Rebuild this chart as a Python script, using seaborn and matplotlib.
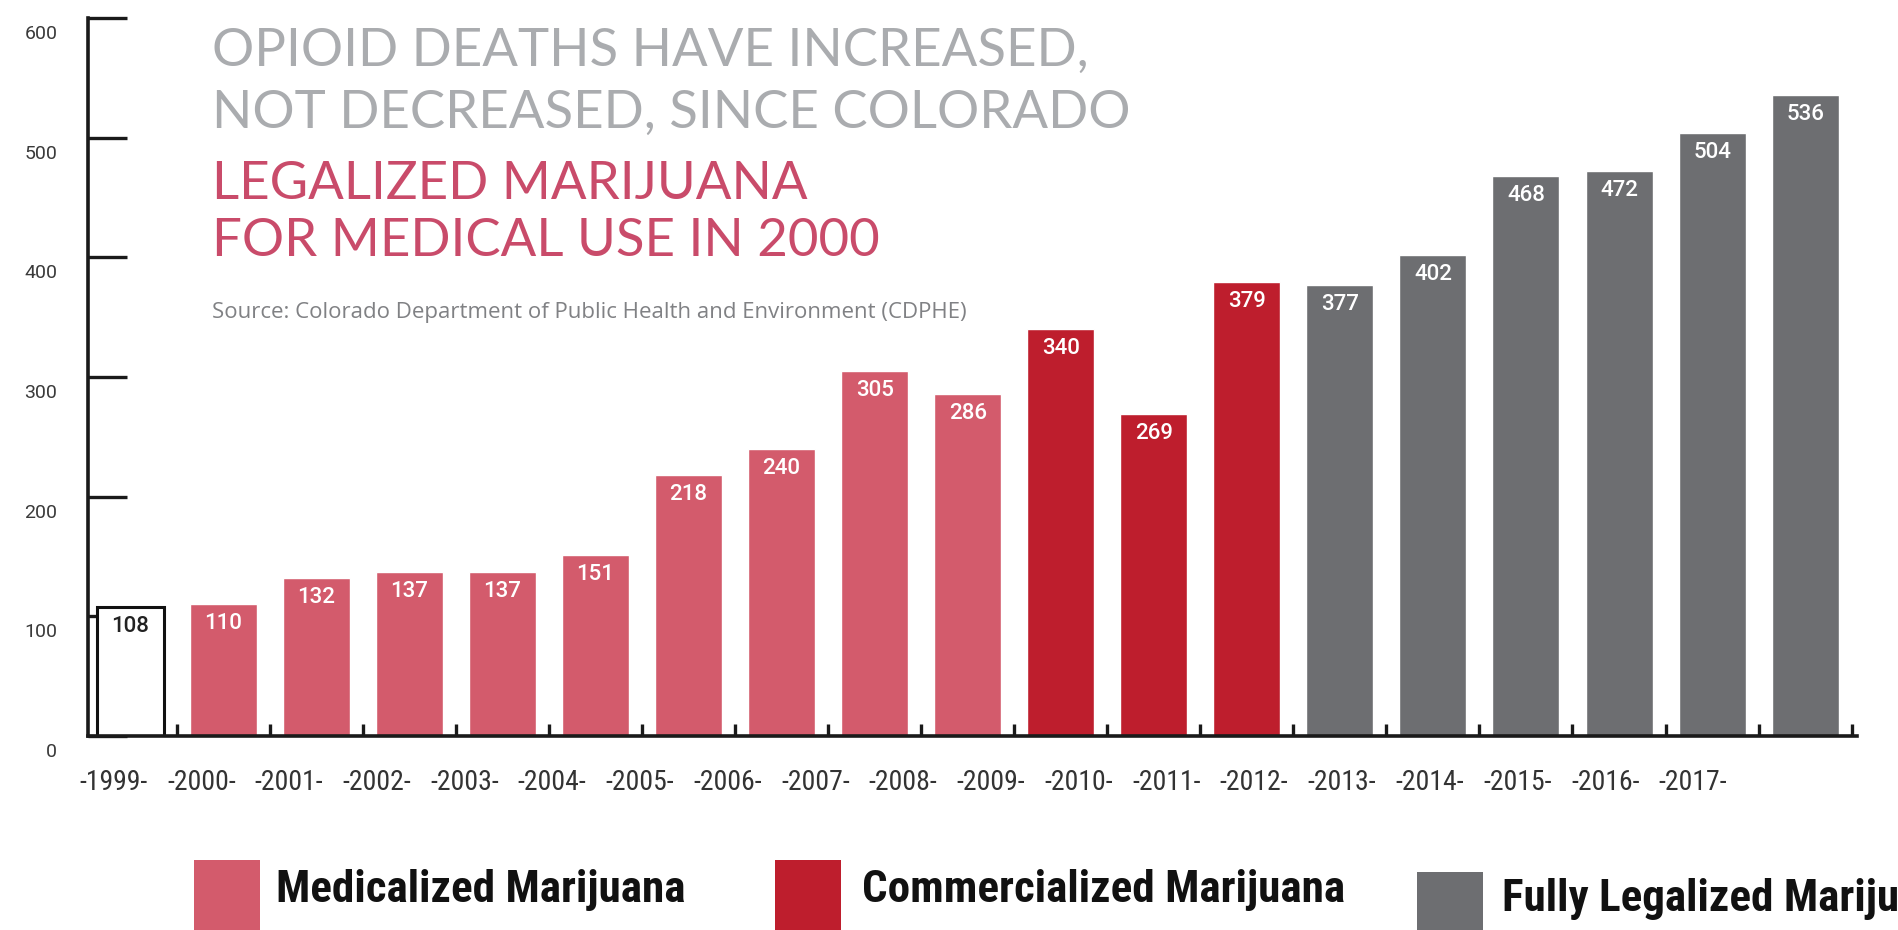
import matplotlib
matplotlib.use("Agg")
import matplotlib.pyplot as plt
from matplotlib.patches import Rectangle
from matplotlib.transforms import ScaledTranslation
import seaborn as sns
import pandas as pd

# Data
years = ["1999", "2000", "2001", "2002", "2003", "2004", "2005", "2006", "2007",
         "2008", "2009", "2010", "2011", "2012", "2013", "2014", "2015", "2016", "2017"]
deaths = [108, 110, 132, 137, 137, 151, 218, 240, 305, 286, 340, 269, 379,
          377, 402, 468, 472, 504, 536]
phase = (["Before"] + ["Medicalized"] * 9 + ["Commercialized"] * 3
         + ["Fully Legalized"] * 6)
tick_labels = ["-%s-" % y for y in years]
y_ticks = [0, 100, 200, 300, 400, 500, 600]

colors = {
    "Before": "#ffffff",
    "Medicalized": "#d35b6c",
    "Commercialized": "#be1e2d",
    "Fully Legalized": "#6d6e71",
}
legend_items = [
    ("Medicalized Marijuana", "Medicalized"),
    ("Commercialized Marijuana", "Commercialized"),
    ("Fully Legalized Marijuana", "Fully Legalized"),
]

narrow = ["Roboto Condensed", "DejaVu Sans"]
plain = ["Roboto", "DejaVu Sans"]

df = pd.DataFrame({"year": years, "deaths": deaths, "phase": phase})

sns.set_style("white")
fig = plt.figure(figsize=(18.99, 9.30), dpi=100)
ax = fig.add_axes([0.0463, 0.2086, 0.9317, 0.772])

sns.barplot(data=df, x="year", y="deaths", hue="phase", palette=colors,
            dodge=False, width=0.72, legend=False, ax=ax, saturation=1)

for p in ax.patches:
    fc = p.get_facecolor()
    if fc[0] > 0.99 and fc[1] > 0.99 and fc[2] > 0.99:
        p.set_edgecolor("#111111")
        p.set_linewidth(2.2)

# value labels inside the top of each bar
for i, v in enumerate(deaths):
    c = "#222222" if phase[i] == "Before" else "white"
    ax.annotate(str(v), (i, v), xytext=(0, -14), textcoords="offset points",
                ha="center", va="center", color=c, fontsize=16,
                fontweight="medium", family=plain)

ax.set_xlim(-0.455, 18.56)
ax.set_ylim(0, 600)

for s in ["top", "right"]:
    ax.spines[s].set_visible(False)
for s in ["left", "bottom"]:
    ax.spines[s].set_linewidth(2.6)
    ax.spines[s].set_color("#1a1a1a")

ax.set_yticks(y_ticks)
ax.set_yticklabels([str(t) for t in y_ticks], family=plain, fontsize=14,
                   color="#3a3a3a")
ax.tick_params(axis="y", left=True, direction="in", length=28, width=2.4,
               pad=22, color="#1a1a1a")
# the axis numbers in the original sit a little below their ticks
shift = ScaledTranslation(0, -10 / 72, fig.dpi_scale_trans)
for lab in ax.get_yticklabels():
    lab.set_transform(lab.get_transform() + shift)

# year labels sit slightly compressed under the bars, tick marks between bars
label_pos = [-0.18 + i * 0.943 for i in range(len(years))]
ax.set_xticks(label_pos)
ax.set_xticklabels(tick_labels, family=narrow, fontsize=20, color="#333333")
ax.set_xticks([i + 0.5 for i in range(len(years))], minor=True)
ax.tick_params(axis="x", which="major", bottom=True, length=0, pad=24)
ax.tick_params(axis="x", which="minor", bottom=True, direction="in", length=9,
               width=2.4, color="#1a1a1a")
ax.set_xlabel("")
ax.set_ylabel("")

# title block
title_font = ["Lato", "DejaVu Sans"]
fig.text(0.1117, 0.945, "OPIOID DEATHS HAVE INCREASED,", color="#aaacaf",
         fontsize=38, family=title_font, va="center")
fig.text(0.1117, 0.878, "NOT DECREASED, SINCE COLORADO", color="#aaacaf",
         fontsize=38, family=title_font, va="center")
fig.text(0.1117, 0.802, "LEGALIZED MARIJUANA", color="#c94b6a",
         fontsize=38, family=title_font, va="center")
fig.text(0.1117, 0.740, "FOR MEDICAL USE IN 2000", color="#c94b6a",
         fontsize=38, family=title_font, va="center")
fig.text(0.1117, 0.664,
         "Source: Colorado Department of Public Health and Environment (CDPHE)",
         color="#808184", fontsize=16, family=["Open Sans", "DejaVu Sans"],
         va="center")

# legend along the bottom edge
sq = [(194, 860), (775, 860), (1417, 872)]
tx = [(276, 890), (862, 890), (1502, 899)]
W, H = 1899.0, 930.0
for (label, key), (sx, sy), (lx, ly) in zip(legend_items, sq, tx):
    fig.patches.append(Rectangle((sx / W, 1 - (sy + 70) / H), 66 / W, 70 / H,
                                 transform=fig.transFigure,
                                 facecolor=colors[key], edgecolor="none"))
    fig.text(lx / W, 1 - ly / H, label, fontsize=32.5, fontweight="bold",
             family=narrow, color="#111111", va="center")

fig.savefig("out.png", dpi=100, facecolor="white")
